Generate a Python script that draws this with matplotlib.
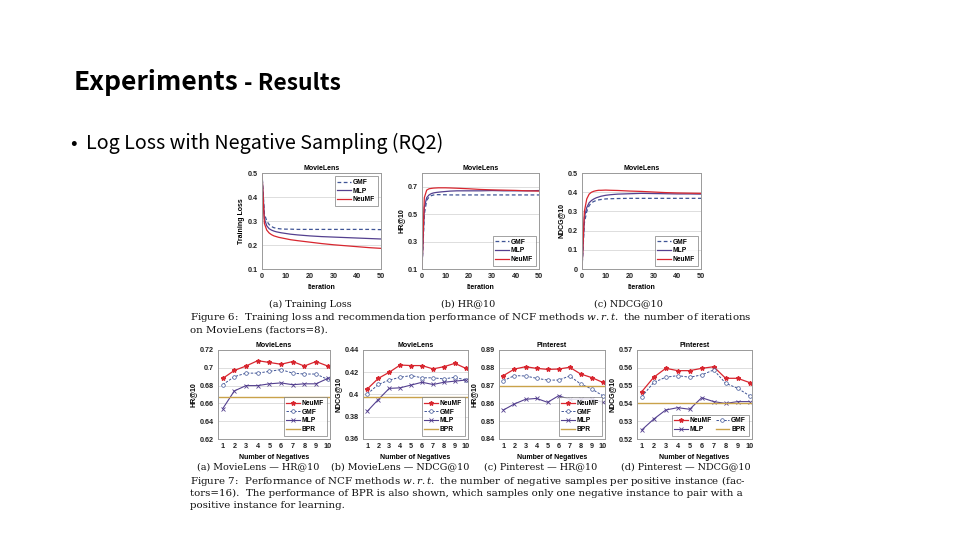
import matplotlib
matplotlib.use("Agg")
import matplotlib.pyplot as plt

plt.rcParams["mathtext.fontset"] = "dejavuserif"

# ---------------- data ----------------
iters = [0, 1, 2, 3, 4, 5, 6, 7, 8, 10, 12, 15, 20, 25, 30, 35, 40, 45, 50]
loss_gmf = [0.50, 0.33, 0.30, 0.285, 0.277, 0.272, 0.270, 0.268, 0.267, 0.266, 0.266, 0.265, 0.265, 0.265, 0.265, 0.265, 0.265, 0.265, 0.264]
loss_mlp = [0.50, 0.31, 0.28, 0.268, 0.262, 0.258, 0.255, 0.253, 0.251, 0.248, 0.245, 0.242, 0.238, 0.235, 0.233, 0.231, 0.229, 0.227, 0.225]
loss_neumf = [0.50, 0.29, 0.262, 0.250, 0.243, 0.238, 0.235, 0.232, 0.230, 0.226, 0.222, 0.218, 0.212, 0.206, 0.201, 0.197, 0.193, 0.189, 0.186]

hr_gmf = [0.10, 0.50, 0.60, 0.625, 0.635, 0.640, 0.642, 0.642, 0.642, 0.641, 0.640, 0.640, 0.640, 0.640, 0.640, 0.640, 0.640, 0.640, 0.640]
hr_mlp = [0.10, 0.55, 0.62, 0.640, 0.650, 0.655, 0.658, 0.660, 0.662, 0.665, 0.668, 0.670, 0.670, 0.670, 0.672, 0.670, 0.670, 0.670, 0.672]
hr_neumf = [0.10, 0.62, 0.675, 0.685, 0.688, 0.690, 0.691, 0.692, 0.692, 0.692, 0.691, 0.689, 0.685, 0.680, 0.677, 0.675, 0.673, 0.670, 0.668]

nd_gmf = [0.00, 0.24, 0.30, 0.33, 0.345, 0.352, 0.357, 0.360, 0.362, 0.365, 0.366, 0.367, 0.368, 0.368, 0.368, 0.368, 0.368, 0.368, 0.368]
nd_mlp = [0.00, 0.27, 0.32, 0.345, 0.357, 0.365, 0.371, 0.375, 0.379, 0.384, 0.387, 0.390, 0.392, 0.394, 0.393, 0.392, 0.391, 0.391, 0.390]
nd_neumf = [0.00, 0.30, 0.365, 0.390, 0.400, 0.405, 0.408, 0.410, 0.410, 0.411, 0.410, 0.409, 0.406, 0.404, 0.401, 0.398, 0.396, 0.395, 0.394]

negs = [1, 2, 3, 4, 5, 6, 7, 8, 9, 10]
ml_hr_neumf = [0.688, 0.697, 0.702, 0.708, 0.706, 0.704, 0.707, 0.702, 0.707, 0.702]
ml_hr_gmf = [0.681, 0.690, 0.694, 0.694, 0.696, 0.698, 0.694, 0.693, 0.693, 0.687]
ml_hr_mlp = [0.654, 0.674, 0.680, 0.680, 0.682, 0.683, 0.681, 0.682, 0.682, 0.688]
ml_hr_bpr = 0.667

ml_nd_neumf = [0.405, 0.4145, 0.420, 0.4265, 0.426, 0.426, 0.423, 0.425, 0.428, 0.4235]
ml_nd_gmf = [0.4005, 0.409, 0.413, 0.4155, 0.417, 0.415, 0.415, 0.414, 0.4155, 0.413]
ml_nd_mlp = [0.385, 0.3955, 0.4055, 0.406, 0.4085, 0.411, 0.409, 0.411, 0.412, 0.413]
ml_nd_bpr = 0.398

pin_hr_neumf = [0.8756, 0.8793, 0.8806, 0.8797, 0.8791, 0.8793, 0.8803, 0.8765, 0.8745, 0.8718]
pin_hr_gmf = [0.8728, 0.8756, 0.8754, 0.8741, 0.8731, 0.8731, 0.8754, 0.8709, 0.8681, 0.8643]
pin_hr_mlp = [0.8563, 0.8597, 0.8623, 0.8628, 0.8606, 0.8643, 0.8623, 0.8625, 0.8625, 0.8606]
pin_hr_bpr = 0.870

pin_nd_neumf = [0.5466, 0.5547, 0.5597, 0.5584, 0.5584, 0.5597, 0.5606, 0.5541, 0.5541, 0.5517]
pin_nd_gmf = [0.5438, 0.5518, 0.5547, 0.5556, 0.5547, 0.5560, 0.5588, 0.5513, 0.5485, 0.5443]
pin_nd_mlp = [0.5251, 0.5312, 0.5363, 0.5376, 0.5367, 0.5432, 0.5410, 0.5400, 0.5410, 0.5410]
pin_nd_bpr = 0.5404

# ---------------- style ----------------
C_GMF = "#3f5496"
C_MLP = "#54408f"
C_NEU = "#d8262f"
C_BPR = "#c9a24a"
SANS = ["Liberation Sans", "DejaVu Sans"]
SERIF = ["DejaVu Serif"]
KR = ["Noto Sans CJK KR", "DejaVu Sans"]

W, H = 960, 540
fig = plt.figure(figsize=(9.6, 5.4), dpi=100)
fig.patch.set_facecolor("white")


def add_ax(L, R, T, B):
    return fig.add_axes([L / W, 1 - B / H, (R - L) / W, (B - T) / H])


def style(ax, title, xlabel, ylabel, yticks, ylim, xlim, xticks, ylabels=None):
    ax.set_xlim(*xlim)
    ax.set_ylim(*ylim)
    ax.set_yticks(yticks)
    if ylabels is not None:
        ax.set_yticklabels(ylabels)
    ax.set_xticks(xticks)
    ax.grid(axis="y", color="#d8d8d8", lw=0.6)
    ax.set_axisbelow(True)
    for s in ax.spines.values():
        s.set_color("#9a9a9a")
        s.set_linewidth(0.7)
    ax.tick_params(length=0, labelsize=5.2, pad=3, colors="#222222")
    for lab in ax.get_xticklabels() + ax.get_yticklabels():
        lab.set_fontweight("bold")
        lab.set_family(SANS)
    ax.set_title(title, fontsize=5, fontweight="bold", family=SANS, pad=2)
    ax.set_xlabel(xlabel, fontsize=5, fontweight="bold", family=SANS, labelpad=3)
    ax.set_ylabel(ylabel, fontsize=5, fontweight="bold", family=SANS, labelpad=2)


def finish_legend(lg):
    lg.get_frame().set_edgecolor("#777777")
    lg.get_frame().set_linewidth(0.6)
    return lg


LEGKW = dict(frameon=True, fancybox=False, handlelength=2.0, borderpad=0.4, labelspacing=0.25,
             handletextpad=0.3, columnspacing=0.6, borderaxespad=0.5,
             prop={"family": SANS, "weight": "bold", "size": 4.8})

# ---------------- row 1 ----------------
ax = add_ax(262, 381, 173, 269)
ax.plot(iters, loss_gmf, color=C_GMF, lw=0.9, ls=(0, (3, 2)), label="GMF")
ax.plot(iters, loss_mlp, color=C_MLP, lw=0.9, label="MLP")
ax.plot(iters, loss_neumf, color=C_NEU, lw=0.9, label="NeuMF")
style(ax, "MovieLens", "Iteration", "Training Loss", [0.1, 0.2, 0.3, 0.4, 0.5],
      (0.1, 0.5), (0, 50), [0, 10, 20, 30, 40, 50])
finish_legend(ax.legend(loc="upper right", **LEGKW))

ax = add_ax(422, 539, 173, 269)
ax.plot(iters, hr_gmf, color=C_GMF, lw=0.9, ls=(0, (3, 2)), label="GMF")
ax.plot(iters, hr_mlp, color=C_MLP, lw=0.9, label="MLP")
ax.plot(iters, hr_neumf, color=C_NEU, lw=0.9, label="NeuMF")
style(ax, "MovieLens", "Iteration", "HR@10", [0.1, 0.3, 0.5, 0.7],
      (0.1, 0.8), (0, 50), [0, 10, 20, 30, 40, 50])
finish_legend(ax.legend(loc="lower right", **LEGKW))

ax = add_ax(582, 701, 173, 269)
ax.plot(iters, nd_gmf, color=C_GMF, lw=0.9, ls=(0, (3, 2)), label="GMF")
ax.plot(iters, nd_mlp, color=C_MLP, lw=0.9, label="MLP")
ax.plot(iters, nd_neumf, color=C_NEU, lw=0.9, label="NeuMF")
style(ax, "MovieLens", "Iteration", "NDCG@10", [0, 0.1, 0.2, 0.3, 0.4, 0.5],
      (0, 0.5), (0, 50), [0, 10, 20, 30, 40, 50],
      ylabels=["0", "0.1", "0.2", "0.3", "0.4", "0.5"])
finish_legend(ax.legend(loc="lower right", **LEGKW))


# ---------------- row 2 ----------------
def neg_panel(box, title, ylabel, neu, gmf, mlp, bpr, yticks, ylim, ylabels=None, ncol=1):
    ax = add_ax(*box)
    ax.plot(negs, neu, color=C_NEU, lw=0.9, marker="*", ms=3.2, mfc=C_NEU, mec=C_NEU, label="NeuMF")
    ax.plot(negs, gmf, color=C_GMF, lw=0.7, ls=(0, (2.5, 1.5)), marker="o", ms=2.6, mfc="white",
            mec=C_GMF, mew=0.5, label="GMF")
    ax.plot(negs, mlp, color=C_MLP, lw=0.8, marker="x", ms=2.6, mew=0.6, label="MLP")
    ax.axhline(bpr, color=C_BPR, lw=1.0, label="BPR")
    style(ax, title, "Number of Negatives", ylabel, yticks, ylim, (0.6, 10.2), negs, ylabels)
    h, l = ax.get_legend_handles_labels()
    if ncol == 2:
        h = [h[0], h[2], h[1], h[3]]
        l = [l[0], l[2], l[1], l[3]]
    lg = ax.legend(h, l, loc="lower right", ncol=ncol, **LEGKW)
    finish_legend(lg)
    return ax


neg_panel((218, 330, 350, 439), "MovieLens", "HR@10", ml_hr_neumf, ml_hr_gmf, ml_hr_mlp, ml_hr_bpr,
          [0.62, 0.64, 0.66, 0.68, 0.70, 0.72], (0.62, 0.72),
          ylabels=["0.62", "0.64", "0.66", "0.68", "0.7", "0.72"])

neg_panel((363, 468, 350, 439), "MovieLens", "NDCG@10", ml_nd_neumf, ml_nd_gmf, ml_nd_mlp, ml_nd_bpr,
          [0.36, 0.38, 0.40, 0.42, 0.44], (0.36, 0.44),
          ylabels=["0.36", "0.38", "0.4", "0.42", "0.44"])

neg_panel((499, 605, 350, 439), "Pinterest", "HR@10", pin_hr_neumf, pin_hr_gmf, pin_hr_mlp, pin_hr_bpr,
          [0.84, 0.85, 0.86, 0.87, 0.88, 0.89], (0.84, 0.89))

neg_panel((637, 752, 350, 439), "Pinterest", "NDCG@10", pin_nd_neumf, pin_nd_gmf, pin_nd_mlp, pin_nd_bpr,
          [0.52, 0.53, 0.54, 0.55, 0.56, 0.57], (0.52, 0.57), ncol=2)


# ---------------- slide text ----------------
def ft(x, y, s, **kw):
    fig.text(x / W, 1 - y / H, s, **kw)


ft(74, 82, "Experiments", fontsize=19, fontweight="bold", family=KR, va="center")
ft(244, 84, "- Results", fontsize=16.5, fontweight="bold", family=KR, va="center")
ft(70, 143, "•", fontsize=14, family=KR, va="center")
ft(86, 143, "Log Loss with Negative Sampling (RQ2)", fontsize=14.2, family=KR, va="center")

cap = dict(fontsize=7.4, family=SERIF, va="center", color="#111111")
sub = dict(fontsize=6.9, family=SERIF, va="center", color="#111111")
ft(310, 304, "(a) Training Loss", ha="center", **sub)
ft(468, 304, "(b) HR@10", ha="center", **sub)
ft(628, 304, "(c) NDCG@10", ha="center", **sub)
ft(190, 318, "Figure 6:  Training loss and recommendation performance of NCF methods $\\it{w.r.t.}$ the number of iterations",
   **cap)
ft(190, 330, "on MovieLens (factors=8).", **cap)

ft(258, 467, "(a) MovieLens — HR@10", ha="center", **sub)
ft(400, 467, "(b) MovieLens — NDCG@10", ha="center", **sub)
ft(541, 467, "(c) Pinterest — HR@10", ha="center", **sub)
ft(686, 467, "(d) Pinterest — NDCG@10", ha="center", **sub)
ft(190, 481, "Figure 7:  Performance of NCF methods $\\it{w.r.t.}$ the number of negative samples per positive instance (fac-",
   **cap)
ft(190, 493, "tors=16).  The performance of BPR is also shown, which samples only one negative instance to pair with a",
   **cap)
ft(190, 505, "positive instance for learning.", **cap)

fig.savefig("out.png", dpi=100, facecolor="white")
